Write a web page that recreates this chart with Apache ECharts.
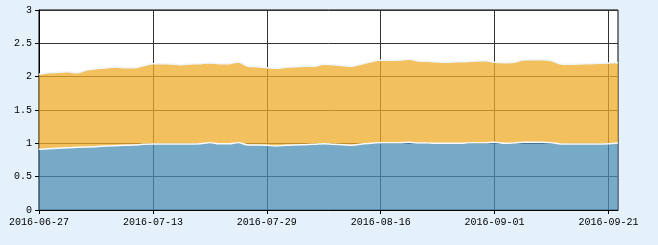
<!DOCTYPE html>
<html>
<head>
<meta charset="utf-8">
<script src="https://cdn.jsdelivr.net/npm/echarts@6/dist/echarts.min.js"></script>
<style>
html,body{margin:0;padding:0;background:#e5f1fa;}
#c{width:658px;height:245px;}
</style>
</head>
<body>
<div id="c"></div>
<script>
var dates = [
 '2016-06-27','2016-06-28','2016-06-29','2016-06-30',
 '2016-07-01','2016-07-04','2016-07-05','2016-07-06','2016-07-07','2016-07-08',
 '2016-07-11','2016-07-12','2016-07-13','2016-07-14','2016-07-15',
 '2016-07-18','2016-07-19','2016-07-20','2016-07-21','2016-07-22',
 '2016-07-25','2016-07-26','2016-07-27','2016-07-28','2016-07-29',
 '2016-08-01','2016-08-02','2016-08-03','2016-08-04','2016-08-05',
 '2016-08-08','2016-08-09','2016-08-10','2016-08-11','2016-08-12',
 '2016-08-15','2016-08-16','2016-08-17','2016-08-18','2016-08-19',
 '2016-08-22','2016-08-23','2016-08-24','2016-08-25','2016-08-26',
 '2016-08-29','2016-08-30','2016-08-31','2016-09-01','2016-09-02',
 '2016-09-05','2016-09-06','2016-09-07','2016-09-08','2016-09-09',
 '2016-09-12','2016-09-13','2016-09-14',
 '2016-09-19','2016-09-20','2016-09-21','2016-09-22'
];
var seriesA = [
 0.91,0.92,0.925,0.935,0.94,0.945,0.95,0.96,0.965,0.97,
 0.975,0.985,0.99,0.99,0.99,0.99,0.99,0.995,1.01,0.995,
 0.995,1.01,0.975,0.975,0.97,0.96,0.97,0.975,0.98,0.985,
 0.995,0.985,0.98,0.97,0.99,1.0,1.01,1.01,1.01,1.015,
 1.005,1.005,1.0,1.0,1.0,1.005,1.01,1.01,1.015,1.0,
 1.005,1.015,1.015,1.015,1.01,0.99,0.99,0.99,0.99,0.99,
 0.995,1.005
];
var seriesB = [
 1.125,1.14,1.14,1.14,1.12,1.155,1.17,1.17,1.18,1.165,
 1.16,1.18,1.205,1.205,1.2,1.19,1.2,1.2,1.195,1.2,
 1.2,1.21,1.18,1.175,1.165,1.165,1.17,1.175,1.175,1.17,
 1.19,1.195,1.185,1.185,1.2,1.225,1.235,1.235,1.24,1.245,
 1.23,1.225,1.22,1.215,1.225,1.22,1.225,1.23,1.2,1.21,
 1.21,1.235,1.24,1.24,1.23,1.2,1.195,1.2,1.205,1.21,
 1.21,1.205
];
var yMin = 0, yMax = 3, yStep = 0.5;
var labelEvery = 12;

var chart = echarts.init(document.getElementById('c'), null, {renderer:'canvas'});
var font = {fontFamily:'Liberation Mono', fontSize:10, color:'#000'};
var pick = function (i) { return i % labelEvery === 0; };
chart.setOption({
  backgroundColor:'#e5f1fa',
  animation:false,
  grid:{left:39,right:40,top:10,bottom:35,show:true,backgroundColor:'#fff',borderColor:'#000',borderWidth:1},
  xAxis:{
    type:'category', data:dates, boundaryGap:false,
    axisLine:{lineStyle:{color:'#000',width:1}},
    axisTick:{show:true,interval:pick,length:4,lineStyle:{color:'#000'}},
    axisLabel:Object.assign({interval:pick,margin:7,hideOverlap:false}, font),
    splitLine:{show:true,interval:pick,lineStyle:{color:'#333',width:1}}
  },
  yAxis:{
    type:'value', min:yMin, max:yMax, interval:yStep,
    axisLine:{show:true,lineStyle:{color:'#000',width:1}},
    axisTick:{show:true,length:4,lineStyle:{color:'#000'}},
    axisLabel:Object.assign({margin:7}, font),
    splitLine:{show:true,lineStyle:{color:'#333',width:1}}
  },
  series:[
    {type:'line',name:'A',stack:'s',data:seriesA,symbol:'none',smooth:0.3,
     lineStyle:{color:'#f4faff',width:1.5},
     areaStyle:{color:'#488eb3',opacity:0.75}},
    {type:'line',name:'B',stack:'s',data:seriesB,symbol:'none',smooth:0.3,
     lineStyle:{color:'#eef6fc',width:1.5},
     areaStyle:{color:'#efab28',opacity:0.75}}
  ]
});
</script>
</body>
</html>
